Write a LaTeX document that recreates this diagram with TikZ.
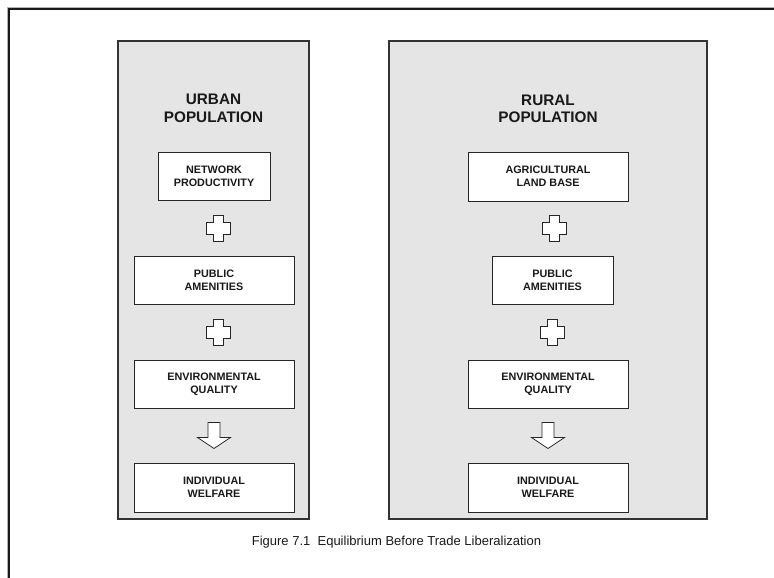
\documentclass[tikz,border=0pt]{standalone}
\usepackage{fontspec}
\setmainfont{Liberation Sans}
\usetikzlibrary{calc}
\begin{document}
\begin{tikzpicture}[x=1pt,y=-1pt,
  panel/.style={draw=black!80, line width=1.1pt, fill=black!10},
  factor/.style={draw=black!85, line width=0.9pt, fill=white, text=black!90,
    font=\fontsize{10.8}{13}\selectfont\bfseries, align=center, inner sep=0pt},
  poptitle/.style={font=\fontsize{15.3}{17.5}\selectfont\bfseries, align=center, text=black!90},
  sym/.style={draw=black!85, line width=0.8pt, fill=white, line join=miter},
  pics/plussign/.style={code={\draw[sym] (-5,-13) -- (5,-13) -- (5,-6) -- (12,-6) -- (12,6) -- (5,6) -- (5,13) -- (-5,13) -- (-5,6) -- (-12,6) -- (-12,-6) -- (-5,-6) -- cycle;}},
  pics/downarrow/.style={code={\draw[sym] (-6,-13) -- (6,-13) -- (6,2) -- (16.5,2) -- (0,13) -- (-16.5,2) -- (-6,2) -- cycle;}}
]
\useasboundingbox (0,0) rectangle (774,578);
% outer frame
\draw[black!30, line width=0.8pt] (7.8,578) -- (7.8,7.8) -- (774,7.8);
\draw[black!90, line width=1.3pt] (9,578) -- (9,9) -- (774,9);

% panels
\node[panel, minimum width=191pt, minimum height=478pt, inner sep=0pt] (urban) at (213.5,280) {};
\node[panel, minimum width=318pt, minimum height=478pt, inner sep=0pt] (rural) at (548,280) {};

% titles
\node[poptitle] (ut) at (213.5,108.5) {URBAN\\POPULATION};
\node[poptitle] (rt) at (548,109) {RURAL\\POPULATION};

% urban factors
\node[factor, minimum width=112pt, minimum height=48pt] (un) at (214,176.5) {NETWORK\\PRODUCTIVITY};
\node[factor, minimum width=160pt, minimum height=48pt] (up) at (214,280) {PUBLIC\\AMENITIES};
\node[factor, minimum width=160pt, minimum height=48pt] (ue) at (214,384) {ENVIRONMENTAL\\QUALITY};
\node[factor, minimum width=160pt, minimum height=49pt] (uw) at (214,487.5) {INDIVIDUAL\\WELFARE};

% rural factors
\node[factor, minimum width=160pt, minimum height=49pt] (ra) at (548,176.5) {AGRICULTURAL\\LAND BASE};
\node[factor, minimum width=121pt, minimum height=48pt] (rp) at (552.5,280) {PUBLIC\\AMENITIES};
\node[factor, minimum width=160pt, minimum height=48pt] (re) at (548,384) {ENVIRONMENTAL\\QUALITY};
\node[factor, minimum width=160pt, minimum height=49pt] (rw) at (548,487.5) {INDIVIDUAL\\WELFARE};

% symbols between factors
\coordinate (uc1) at ($(un.south)!0.5!(up.north)$);
\coordinate (uc2) at ($(up.south)!0.5!(ue.north)$);
\coordinate (uc3) at ($(ue.south)!0.5!(uw.north)$);
\coordinate (rc1) at ($(ra.south)!0.5!(rp.north)$);
\coordinate (rc2) at ($(rp.south)!0.5!(re.north)$);
\coordinate (rc3) at ($(re.south)!0.5!(rw.north)$);
\pic[xshift=4pt] at (uc1) {plussign};
\pic[xshift=4pt] at (uc2) {plussign};
\pic at (uc3) {downarrow};
\pic[xshift=4pt] at (rc1) {plussign};
\pic[xshift=2pt] at (rc2) {plussign};
\pic at (rc3) {downarrow};

% caption
\node[font=\fontsize{13}{15}\selectfont, text=black!90] (cap) at (396.5,542) {Figure 7.1\ \ Equilibrium Before Trade Liberalization};
\end{tikzpicture}
\end{document}
